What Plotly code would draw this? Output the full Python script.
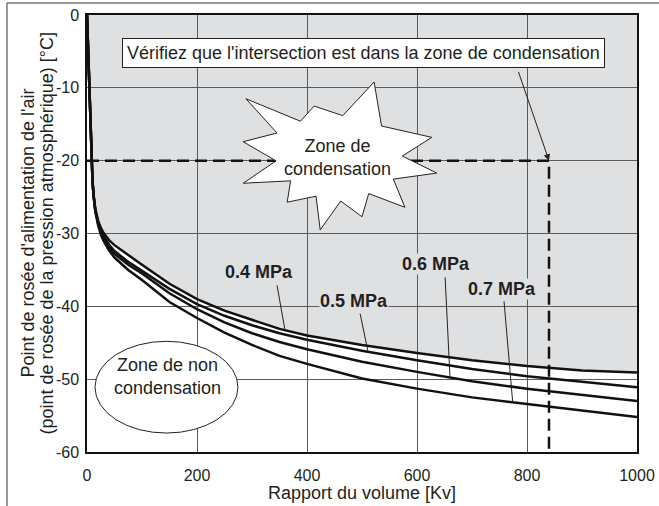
import numpy as np
import plotly.graph_objects as go

# ---------------- data ----------------
kv = [0, 2, 4, 6, 8, 10, 12, 15, 20, 25, 30, 40, 50, 75, 100, 150, 200, 250,
      300, 350, 400, 500, 600, 700, 800, 900, 1000]
dew_04 = [0, -5, -10, -15, -20, -22.8, -24.8, -26.6, -28.2, -29.2, -29.9, -30.9, -31.6,
          -33.0, -34.3, -36.9, -39.0, -40.6, -41.9, -43.1, -44.0, -45.3, -46.4, -47.4,
          -48.2, -48.8, -49.1]
dew_05 = [0, -5, -10, -15, -20, -22.8, -24.8, -26.7, -28.4, -29.5, -30.3, -31.5, -32.4,
          -33.9, -35.1, -37.6, -39.7, -41.3, -42.6, -43.7, -44.6, -46.1, -47.4, -48.6,
          -49.6, -50.4, -51.1]
dew_06 = [0, -5, -10, -15, -20, -22.8, -24.8, -26.8, -28.6, -29.8, -30.6, -31.9, -32.8,
          -34.3, -35.5, -38.2, -40.4, -42.2, -43.7, -44.9, -45.9, -47.6, -49.0, -50.3,
          -51.3, -52.2, -53.0]
dew_07 = [0, -5, -10, -15, -20, -22.8, -24.8, -26.9, -28.8, -30.1, -31.0, -32.3, -33.3,
          -35.0, -36.4, -39.4, -41.6, -43.6, -45.3, -46.8, -47.9, -49.9, -51.3, -52.5,
          -53.4, -54.3, -55.2]
series = [("0.4 MPa", dew_04), ("0.5 MPa", dew_05), ("0.6 MPa", dew_06), ("0.7 MPa", dew_07)]

x_ticks = [0, 200, 400, 600, 800, 1000]
x_tick_labels = ["0", "200", "400", "600", "800", "1000"]
y_ticks = [0, -10, -20, -30, -40, -50, -60]
y_tick_labels = ["0", "-10", "-20", "-30", "-40", "-50", "-60"]

target_kv = 840
target_dew = -20

# label placement (data coords): label centre, pointer start, pointer end kv
label_pos = {
    "0.4 MPa": dict(tx=312, ty=-35.3, sx=345, sy=-36.9, ex=360),
    "0.5 MPa": dict(tx=486, ty=-39.3, sx=496, sy=-40.8, ex=511),
    "0.6 MPa": dict(tx=634, ty=-34.2, sx=651, sy=-35.8, ex=660),
    "0.7 MPa": dict(tx=755, ty=-37.6, sx=758, sy=-39.1, ex=774),
}

# ---------------- style ----------------
FONT = "Liberation Sans, Arial, Helvetica, sans-serif"
GRAY = "#dfe0e2"
TXT = "#231f20"
GRID = "#5a5a5a"

fig = go.Figure()

# condensation zone fill (above the top curve), as a shape below gridlines
path = "M 0,0 " + " ".join(f"L {x},{y}" for x, y in zip(kv, dew_04)) + f" L {kv[-1]},0 Z"
shapes = [dict(type="path", path=path, xref="x", yref="y", fillcolor=GRAY,
               line=dict(width=0), layer="below")]

for name, vals in series:
    fig.add_trace(go.Scatter(x=kv, y=vals, mode="lines", name=name,
                             line=dict(color="#111", width=2.5), showlegend=False,
                             hoverinfo="skip"))

# dashed reading lines
fig.add_trace(go.Scatter(x=[0, target_kv, target_kv], y=[target_dew, target_dew, -60],
                         mode="lines", line=dict(color="#111", width=2.5, dash="12px,6px"),
                         showlegend=False, hoverinfo="skip"))

# starburst "Zone de condensation"
star_tips = [(522, -9.2), (627, -16.8), (636, -21.7), (578, -26.4), (500, -27.7),
             (424, -29.5), (364, -25.7), (284, -23.1), (284, -17.4), (289, -11.5),
             (413, -12.5)]
cx, cy = 460, -19.6
k = 0.66
pts = []
n = len(star_tips)
for i in range(n):
    x1, y1 = star_tips[i]
    x2, y2 = star_tips[(i + 1) % n]
    pts.append((x1, y1))
    mx, my = (x1 + x2) / 2, (y1 + y2) / 2
    pts.append((cx + k * (mx - cx), cy + k * (my - cy)))
star_path = "M " + " L ".join(f"{x},{y}" for x, y in pts) + " Z"
shapes.append(dict(type="path", path=star_path, xref="x", yref="y", fillcolor="white",
                   line=dict(color="#222", width=1), layer="above"))

# ellipse "Zone de non condensation"
shapes.append(dict(type="circle", xref="x", yref="y", x0=14.5, x1=274.5, y0=-57.4, y1=-44.8,
                   fillcolor="white", line=dict(color="#222", width=1), layer="above"))

# outer frame (left + top)
shapes.append(dict(type="line", xref="paper", yref="paper", x0=-0.1455, x1=-0.1455,
                   y0=-0.13, y1=1.0275, line=dict(color="#777", width=1.5)))
shapes.append(dict(type="line", xref="paper", yref="paper", x0=-0.1455, x1=1.05,
                   y0=1.0275, y1=1.0275, line=dict(color="#777", width=1.5)))

annotations = []
for name, vals in series:
    p = label_pos[name]
    ey = float(np.interp(p["ex"], kv, vals))
    annotations.append(dict(x=p["ex"], y=ey, ax=p["sx"], ay=p["sy"], axref="x", ayref="y",
                            xref="x", yref="y", text="", showarrow=True, arrowhead=0,
                            arrowwidth=1, arrowcolor="#222", standoff=0, startstandoff=0))
    annotations.append(dict(x=p["tx"], y=p["ty"], xref="x", yref="y", text=f"<b>{name}</b>",
                            showarrow=False, font=dict(family=FONT, size=18, color=TXT),
                            bgcolor=GRAY, borderpad=0))

# info box + arrow
annotations.append(dict(x=502.7, y=-5.2, xref="x", yref="y",
                        text="Vérifiez que l'intersection est dans la zone de condensation",
                        showarrow=False, font=dict(family=FONT, size=18, color=TXT),
                        bgcolor="white", bordercolor="#222", borderwidth=1, borderpad=4))
annotations.append(dict(x=target_kv, y=target_dew, ax=783.5, ay=-7.6, axref="x", ayref="y",
                        xref="x", yref="y", text="", showarrow=True, arrowhead=2,
                        arrowsize=1.3, arrowwidth=1, arrowcolor="#222", standoff=0))

annotations.append(dict(x=456, y=-19.6, xref="x", yref="y", text="Zone de<br>condensation",
                        showarrow=False, font=dict(family=FONT, size=18, color=TXT)))
annotations.append(dict(x=145.5, y=-49.7, xref="x", yref="y", text="Zone de non<br>condensation",
                        showarrow=False, font=dict(family=FONT, size=18, color=TXT)))

# axis titles (y title as two rotated lines)
annotations.append(dict(x=0, y=0.5, xref="paper", yref="paper", xshift=-60, textangle=-90,
                        text="Point de rosée d'alimentation de l'air",
                        showarrow=False, xanchor="center", yanchor="middle",
                        font=dict(family=FONT, size=18, color=TXT)))
annotations.append(dict(x=0, y=0.5, xref="paper", yref="paper", xshift=-41, textangle=-90,
                        text="(point de rosée de la pression atmosphérique) [°C]",
                        showarrow=False, xanchor="center", yanchor="middle",
                        font=dict(family=FONT, size=18, color=TXT)))
annotations.append(dict(x=0.5, y=0, xref="paper", yref="paper", yshift=-41,
                        text="Rapport du volume [Kv]", showarrow=False,
                        xanchor="center", yanchor="middle",
                        font=dict(family=FONT, size=18, color=TXT)))

fig.update_layout(
    width=659, height=506,
    margin=dict(l=87, r=22, t=15, b=54),
    paper_bgcolor="white", plot_bgcolor="white",
    shapes=shapes, annotations=annotations,
    font=dict(family=FONT, color=TXT),
    xaxis=dict(range=[0, 1000], tickvals=x_ticks, ticktext=x_tick_labels,
               showgrid=True, gridcolor=GRID, gridwidth=1, zeroline=False,
               showline=True, mirror=True, linecolor="#111", linewidth=1.5,
               ticks="", ticklabelstandoff=8, tickfont=dict(size=16, color=TXT, family=FONT),
               automargin=False, fixedrange=True),
    yaxis=dict(range=[-60, 0], tickvals=y_ticks, ticktext=y_tick_labels,
               showgrid=True, gridcolor=GRID, gridwidth=1, zeroline=False,
               showline=True, mirror=True, linecolor="#111", linewidth=1.5,
               ticks="", ticklabelstandoff=3, tickfont=dict(size=16, color=TXT, family=FONT),
               automargin=False, fixedrange=True),
)

fig.write_html("out.html", config={"displayModeBar": False},
               post_script="document.body.style.margin='0';document.body.style.overflow='hidden';")
